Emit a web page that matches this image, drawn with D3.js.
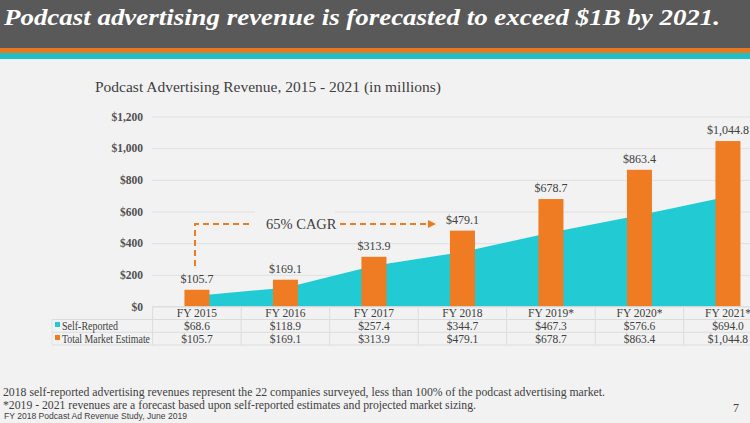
<!DOCTYPE html>
<html><head><meta charset="utf-8">
<script src="https://cdn.jsdelivr.net/npm/d3@7"></script>
<style>
html,body{margin:0;padding:0;background:#f2f2f2;overflow:hidden;}
svg{display:block;}
</style></head>
<body>
<svg id="c" width="750" height="423" font-family="Georgia,'Liberation Serif','Times New Roman',serif"></svg>
<script>
const categories = ["FY 2015","FY 2016","FY 2017","FY 2018","FY 2019*","FY 2020*","FY 2021*"];
const selfReported = [68.6,118.9,257.4,344.7,467.3,576.6,694.0];
const totalMarket = [105.7,169.1,313.9,479.1,678.7,863.4,1044.8];
const yTicks = [0,200,400,600,800,1000,1200];
const seriesNames = ["Self-Reported","Total Market Estimate"];

const SERIF = "Georgia,'Liberation Serif','Times New Roman',serif";
const ORANGE = "#ef7b22", TEAL = "#22cbd3", TXT = "#404040";
const svg = d3.select("#c");

// background + header
svg.append("rect").attr("width",750).attr("height",423).attr("fill","#f2f2f2");
svg.append("rect").attr("width",750).attr("height",48).attr("fill","#595959");
svg.append("rect").attr("y",48).attr("width",750).attr("height",5).attr("fill","#e87722");
svg.append("rect").attr("y",53).attr("width",750).attr("height",6).attr("fill","#20bfc6");
svg.append("text").attr("x",4).attr("y",25).attr("fill","#fff")
  .attr("font-size",24).attr("font-weight","bold").attr("font-style","italic")
  .attr("textLength",716).attr("lengthAdjust","spacingAndGlyphs")
  .text("Podcast advertising revenue is forecasted to exceed $1B by 2021.");

svg.append("text").attr("x",95).attr("y",92).attr("fill",TXT).attr("font-size",15.5)
  .attr("textLength",346).attr("lengthAdjust","spacingAndGlyphs")
  .text("Podcast Advertising Revenue, 2015 - 2021 (in millions)");

const x = d3.scaleBand().domain(categories).range([152.7, 772.2]).paddingInner(0);
const cx = c => x(c) + x.bandwidth()/2;
const y = d3.scaleLinear().domain([0,1200]).range([306.5,116.5]);
const barW = 25;

// gridlines & y axis
const yAxis = d3.axisLeft(y).tickValues(yTicks).tickSize(-600).tickFormat(d => "$" + d3.format(",")(d));
const ga = svg.append("g").attr("transform","translate(152,0)").call(yAxis);
ga.attr("font-family",SERIF);
ga.select(".domain").remove();
ga.selectAll(".tick line").attr("stroke","#e0e0e0").attr("stroke-width",1);
ga.selectAll(".tick text").attr("x",-9).attr("fill","#505050").attr("font-size",11.5)
  .attr("font-weight","bold");

// area (self-reported)
const area = d3.area().x((d,i)=>cx(categories[i])).y0(y(0)).y1(d=>y(d));
svg.append("path").datum(selfReported).attr("d",area).attr("fill",TEAL);

// bars
svg.selectAll("rect.bar").data(totalMarket).join("rect").attr("class","bar")
  .attr("x",(d,i)=>cx(categories[i])-barW/2).attr("width",barW)
  .attr("y",d=>y(d)).attr("height",d=>y(0)-y(d)).attr("fill",ORANGE);
svg.selectAll("text.lbl").data(totalMarket).join("text").attr("class","lbl")
  .attr("x",(d,i)=>cx(categories[i])).attr("y",d=>y(d)-7)
  .attr("text-anchor","middle").attr("font-size",12).attr("fill",TXT)
  .text(d=>"$"+d3.format(",.1f")(d));

// CAGR annotation
svg.append("rect").attr("x",255).attr("y",207).attr("width",80).attr("height",32).attr("fill","#f2f2f2");
const dash = "6,4";
svg.append("path").attr("d",`M195,266 V224 H253`).attr("fill","none")
  .attr("stroke",ORANGE).attr("stroke-width",2).attr("stroke-dasharray",dash);
svg.append("text").attr("x",266).attr("y",229).attr("font-size",14.5).attr("fill",TXT).text("65% CAGR");
svg.append("path").attr("d","M340,224 H430").attr("fill","none")
  .attr("stroke",ORANGE).attr("stroke-width",2).attr("stroke-dasharray",dash);
svg.append("path").attr("d","M428,220 L436,224 L428,228 Z").attr("fill",ORANGE);

// data table
const tg = svg.append("g");
const xL = 52, xR = 772.2;
[306.7].forEach(yy=>tg.append("line").attr("x1",152.7).attr("x2",xR).attr("y1",yy).attr("y2",yy).attr("stroke","#dcdcdc"));
[319.5,332.3,345].forEach(yy=>tg.append("line").attr("x1",xL).attr("x2",xR).attr("y1",yy).attr("y2",yy).attr("stroke","#dcdcdc"));
categories.forEach(c=>tg.append("line").attr("x1",x(c)).attr("x2",x(c)).attr("y1",306.7).attr("y2",345).attr("stroke","#dcdcdc"));
tg.append("line").attr("x1",xL).attr("x2",xL).attr("y1",319.5).attr("y2",345).attr("stroke","#e4e4e4");
tg.selectAll("text.cat").data(categories).join("text").attr("class","cat")
  .attr("x",c=>cx(c)).attr("y",316.5).attr("text-anchor","middle").attr("font-size",11.5).attr("fill",TXT).text(c=>c);
[selfReported,totalMarket].forEach((arr,r)=>{
  const yy = 329.5 + r*13;
  tg.selectAll("text.v"+r).data(arr).join("text").attr("class","v"+r)
    .attr("x",(d,i)=>cx(categories[i])).attr("y",yy).attr("text-anchor","middle")
    .attr("font-size",11.5).attr("fill",TXT).text(d=>"$"+d3.format(",.1f")(d));
  tg.append("rect").attr("x",55).attr("y",yy-7.5).attr("width",5).attr("height",5).attr("fill",r?ORANGE:TEAL);
  tg.append("text").attr("x",62).attr("y",yy).attr("font-size",11.5).attr("fill",TXT)
    .attr("textLength",r?88:56).attr("lengthAdjust","spacingAndGlyphs").text(seriesNames[r]);
});

// footnotes
svg.append("text").attr("x",3).attr("y",396).attr("font-size",12).attr("fill",TXT)
  .attr("textLength",602).attr("lengthAdjust","spacingAndGlyphs")
  .text("2018 self-reported advertising revenues represent the 22 companies surveyed, less than 100% of the podcast advertising market.");
svg.append("text").attr("x",3).attr("y",409).attr("font-size",12).attr("fill",TXT)
  .attr("textLength",473).attr("lengthAdjust","spacingAndGlyphs")
  .text("*2019 - 2021 revenues are a forecast based upon self-reported estimates and projected market sizing.");
svg.append("text").attr("x",4).attr("y",419).attr("font-size",8.5).attr("fill",TXT)
  .attr("font-family","'Liberation Sans',Arial,sans-serif")
  .attr("textLength",183).attr("lengthAdjust","spacingAndGlyphs")
  .text("FY 2018 Podcast Ad Revenue Study, June 2019");
svg.append("text").attr("x",733).attr("y",412).attr("font-size",12).attr("fill",TXT).text("7");
</script>
</body></html>
